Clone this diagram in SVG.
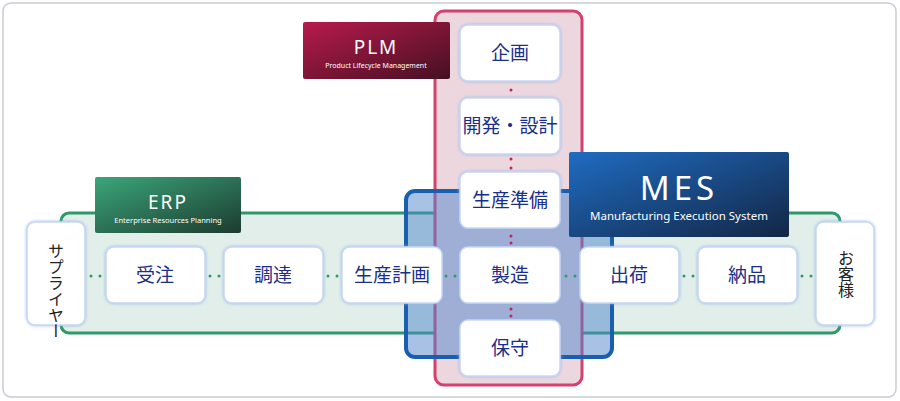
<svg xmlns="http://www.w3.org/2000/svg" width="900" height="401" viewBox="0 0 900 401">
<defs>
<linearGradient id="gE" x1="0" y1="0" x2="1" y2="1"><stop offset="0" stop-color="#3aa67b"/><stop offset="1" stop-color="#1d3b2f"/></linearGradient>
<linearGradient id="gP" x1="0" y1="0" x2="1" y2="1"><stop offset="0" stop-color="#b81a4c"/><stop offset="1" stop-color="#451022"/></linearGradient>
<linearGradient id="gM" x1="0" y1="0" x2="1" y2="1"><stop offset="0" stop-color="#1f6cc2"/><stop offset="1" stop-color="#132645"/></linearGradient>
<filter id="glow" x="-20%" y="-20%" width="140%" height="140%"><feDropShadow dx="0" dy="0" stdDeviation="1.5" flood-color="#8fb0e8" flood-opacity="0.9"/></filter>
</defs>
<style>
.n{fill:#fff;stroke:#c9d8f3;stroke-width:1.5;filter:url(#glow)}
.t{font-family:"Noto Sans CJK JP","Noto Sans",sans-serif;font-size:19px;fill:#1b2f8a;text-anchor:middle}
.s{font-family:"Noto Sans CJK JP",sans-serif;font-size:16px;fill:#222;text-anchor:middle}
.lt{font-family:"Noto Sans","DejaVu Sans",sans-serif;fill:#fff;text-anchor:middle}
.dg{fill:#2e9a6c}.dr{fill:#c0245a}
</style>
<rect x="3" y="3" width="893" height="394" rx="8" fill="#fff" stroke="#c8ccd2" stroke-width="1.5"/>
<g id="erp-band"><rect x="61" y="213" width="779" height="120" rx="8" fill="#e1eee9" stroke="#2e9a6c" stroke-width="3"/></g>
<g id="plm-band"><rect x="435" y="11" width="147" height="374" rx="9" fill="#ecd7df" stroke="#d4416d" stroke-width="3"/></g>
<g id="mes-band"><rect x="406" y="191" width="206" height="166" rx="9" fill="#4f86cc" fill-opacity="0.5" stroke="#1a5fae" stroke-width="4"/></g>
<g id="erp-label"><rect x="95" y="177" width="146" height="56" rx="2" fill="url(#gE)"/><text class="lt" x="168" y="209" font-size="19" letter-spacing="2">ERP</text><text class="lt" x="168" y="223" font-size="7.5">Enterprise Resources Planning</text></g>
<g id="plm-label"><rect x="303" y="22" width="147" height="57" rx="2" fill="url(#gP)"/><text class="lt" x="376" y="54" font-size="19" letter-spacing="2">PLM</text><text class="lt" x="376" y="68" font-size="7">Product Lifecycle Management</text></g>
<g id="mes-label"><rect x="569" y="152" width="220" height="85" rx="2" fill="url(#gM)"/><text class="lt" x="679" y="200" font-size="33" letter-spacing="4">MES</text><text class="lt" x="679" y="220" font-size="11.5">Manufacturing Execution System</text></g>
<g id="connectors">
<circle class="dg" cx="91" cy="276" r="1.5"/><circle class="dg" cx="100" cy="276" r="1.5"/>
<circle class="dg" cx="210" cy="276" r="1.5"/><circle class="dg" cx="219" cy="276" r="1.5"/>
<circle class="dg" cx="328" cy="276" r="1.5"/><circle class="dg" cx="337" cy="276" r="1.5"/>
<circle class="dg" cx="446" cy="276" r="1.5"/><circle class="dg" cx="455" cy="276" r="1.5"/>
<circle class="dg" cx="566" cy="276" r="1.5"/><circle class="dg" cx="575" cy="276" r="1.5"/>
<circle class="dg" cx="684" cy="276" r="1.5"/><circle class="dg" cx="693" cy="276" r="1.5"/>
<circle class="dg" cx="802" cy="276" r="1.5"/><circle class="dg" cx="811" cy="276" r="1.5"/>
<circle class="dr" cx="511" cy="90" r="1.5"/>
<circle class="dr" cx="511" cy="159" r="1.5"/><circle class="dr" cx="511" cy="168" r="1.5"/>
<circle class="dr" cx="511" cy="236" r="1.5"/><circle class="dr" cx="511" cy="243" r="1.5"/>
<circle class="dr" cx="511" cy="309" r="1.5"/><circle class="dr" cx="511" cy="316" r="1.5"/>
</g>
<g id="supplier"><rect class="n" x="27" y="222" width="58" height="103" rx="8"/><text class="s" x="56" y="243" writing-mode="tb" style="text-anchor:start" font-size="16">サプライヤー</text></g>
<g id="n-juchu"><rect class="n" x="106" y="247" width="99" height="56" rx="8"/><text class="t" x="155" y="282">受注</text></g>
<g id="n-chotatsu"><rect class="n" x="224" y="247" width="99" height="56" rx="8"/><text class="t" x="273" y="282">調達</text></g>
<g id="n-keikaku"><rect class="n" x="342" y="247" width="100" height="56" rx="8"/><text class="t" x="392" y="282">生産計画</text></g>
<g id="n-seizo"><rect class="n" x="460" y="247" width="100" height="56" rx="8"/><text class="t" x="510" y="282">製造</text></g>
<g id="n-shukka"><rect class="n" x="580" y="247" width="99" height="56" rx="8"/><text class="t" x="629" y="282">出荷</text></g>
<g id="n-nohin"><rect class="n" x="698" y="247" width="99" height="56" rx="8"/><text class="t" x="747" y="282">納品</text></g>
<g id="customer"><rect class="n" x="816" y="222" width="58" height="103" rx="8"/><text class="s" x="846" y="250" writing-mode="tb" style="text-anchor:start" font-size="15">お客様</text></g>
<g id="n-kikaku"><rect class="n" x="460" y="25" width="100" height="56" rx="8"/><text class="t" x="510" y="60">企画</text></g>
<g id="n-kaihatsu"><rect class="n" x="460" y="98" width="100" height="56" rx="8"/><text class="t" x="510" y="133">開発・設計</text></g>
<g id="n-junbi"><rect class="n" x="460" y="172" width="100" height="56" rx="8"/><text class="t" x="510" y="207">生産準備</text></g>
<g id="n-hoshu"><rect class="n" x="460" y="320" width="100" height="56" rx="8"/><text class="t" x="510" y="355">保守</text></g>
</svg>
